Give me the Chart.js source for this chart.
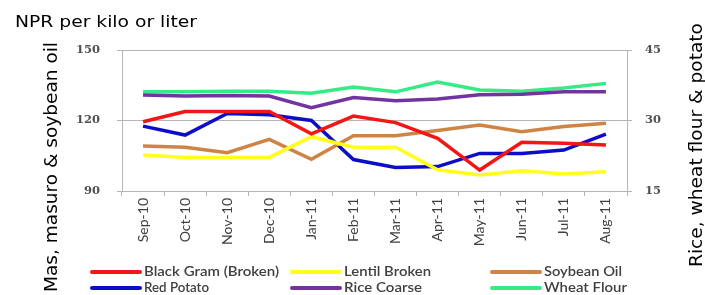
<!DOCTYPE html>
<html>
<head>
<meta charset="utf-8">
<script src="https://cdn.jsdelivr.net/npm/chart.js@4.4.1/dist/chart.umd.min.js"></script>
<style>
  html, body { margin: 0; padding: 0; background: #fff; }
  #wrap { position: relative; width: 705px; height: 295px; }
</style>
</head>
<body>
<div id="wrap"><canvas id="c" width="705" height="295"></canvas></div>
<script>
const categories = ['Sep-10','Oct-10','Nov-10','Dec-10','Jan-11','Feb-11','Mar-11','Apr-11','May-11','Jun-11','Jul-11','Aug-11'];
const blackGram = [119.5,123.8,123.8,123.8,114.3,121.9,119.1,112.4,98.9,110.7,110.3,109.6];
const lentilBroken = [105.3,104.3,104.3,104.3,113.1,108.6,108.6,99.0,96.8,98.6,97.2,98.2];
const soybeanOil = [109.1,108.6,106.3,112.0,103.5,113.5,113.5,115.7,118.1,115.2,117.4,118.8];
const redPotato = [28.8,26.9,31.5,31.2,30.0,21.7,20.0,20.2,23.0,23.0,23.7,27.1];
const riceCoarse = [35.4,35.2,35.3,35.2,32.7,34.9,34.2,34.6,35.5,35.6,36.1,36.1];
const wheatFlour = [36.1,36.1,36.2,36.2,35.8,37.1,36.1,38.2,36.5,36.2,36.9,37.9];
const leftTicks = [90,120,150];
const rightTicks = [15,30,45];
const chartTitle = 'NPR per kilo or liter';
const leftTitle = 'Mas, masuro & soybean oil';
const rightTitle = 'Rice, wheat flour & potato';

const GRID = '#b4b4b4';
const TICKC = '#505050';

function fitText(ctx, text, x, y, w) {
  const m = ctx.measureText(text).width;
  ctx.save();
  ctx.translate(x, y);
  ctx.scale(w / m, 1);
  ctx.fillText(text, 0, 0);
  ctx.restore();
}

const legendSpec = [
  [90, 272, 135], [290, 272, 87], [490, 272, 78],
  [90, 288, 65],  [290, 288, 78], [490, 288, 83]
];

const decor = {
  id: 'decor',
  afterDraw(chart) {
    const ctx = chart.ctx;
    ctx.save();
    ctx.fillStyle = '#000';
    ctx.textBaseline = 'alphabetic';
    ctx.textAlign = 'left';
    ctx.font = '16px "DejaVu Sans"';
    fitText(ctx, chartTitle, 15, 27, 182);

    ctx.save();
    ctx.font = '17px "DejaVu Sans"';
    ctx.translate(57, 292);
    ctx.rotate(-Math.PI / 2);
    fitText(ctx, leftTitle, 0, 0, 250);
    ctx.restore();

    ctx.save();
    ctx.font = '17px "DejaVu Sans"';
    ctx.translate(702, 267);
    ctx.rotate(-Math.PI / 2);
    fitText(ctx, rightTitle, 0, 0, 244);
    ctx.restore();

    ctx.font = '600 12.5px Lato';
    ctx.textBaseline = 'middle';
    chart.data.datasets.forEach((ds, i) => {
      const [lx, ly, tw] = legendSpec[i];
      ctx.strokeStyle = ds.borderColor;
      ctx.lineWidth = 4;
      ctx.lineCap = 'round';
      ctx.beginPath();
      ctx.moveTo(lx + 2, ly);
      ctx.lineTo(lx + 50, ly);
      ctx.stroke();
      ctx.fillStyle = '#404040';
      fitText(ctx, ds.label, lx + 54, ly, tw);
    });
    ctx.restore();
  }
};

const lineDs = (label, data, color, axis) => ({
  label, data, borderColor: color, backgroundColor: color,
  borderWidth: 3.5, pointRadius: 0, tension: 0, yAxisID: axis, fill: false
});

new Chart(document.getElementById('c'), {
  type: 'line',
  data: {
    labels: categories,
    datasets: [
      lineDs('Black Gram (Broken)', blackGram, '#f21616', 'yL'),
      lineDs('Lentil Broken', lentilBroken, '#ffff1a', 'yL'),
      lineDs('Soybean Oil', soybeanOil, '#cf8444', 'yL'),
      lineDs('Red Potato', redPotato, '#0d0dc8', 'yR'),
      lineDs('Rice Coarse', riceCoarse, '#7234a0', 'yR'),
      lineDs('Wheat Flour', wheatFlour, '#36ea86', 'yR')
    ]
  },
  options: {
    responsive: false,
    animation: false,
    devicePixelRatio: 1,
    layout: { padding: { top: 50, left: 0, right: 0, bottom: 0 } },
    plugins: { legend: { display: false }, tooltip: { enabled: false }, title: { display: false } },
    scales: {
      x: {
        type: 'category',
        offset: true,
        afterFit(s) { s.height = 104; },
        grid: { offset: true, drawOnChartArea: false, drawTicks: true, tickLength: 5, color: GRID },
        border: { color: GRID, width: 1 },
        ticks: { maxRotation: 90, minRotation: 90, padding: 2, color: '#404040', font: { family: 'Lato', size: 14 } }
      },
      yL: {
        position: 'left',
        min: 90, max: 150,
        afterFit(s) { s.width = 122; },
        afterBuildTicks(s) { s.ticks = leftTicks.map(v => ({ value: v })); },
        grid: { color: GRID, tickLength: 5, drawTicks: true },
        border: { color: GRID, width: 1 },
        ticks: { padding: 17, color: TICKC, font: { family: 'DejaVu Serif', size: 11.5, weight: 'bold' } }
      },
      yR: {
        position: 'right',
        min: 15, max: 45,
        afterFit(s) { s.width = 78; },
        afterBuildTicks(s) { s.ticks = rightTicks.map(v => ({ value: v })); },
        grid: { drawOnChartArea: false, color: GRID, tickLength: 5, drawTicks: true },
        border: { color: GRID, width: 1 },
        ticks: { padding: 13, color: TICKC, font: { family: 'DejaVu Serif', size: 11.5, weight: 'bold' } }
      }
    }
  },
  plugins: [decor]
});
</script>
</body>
</html>
